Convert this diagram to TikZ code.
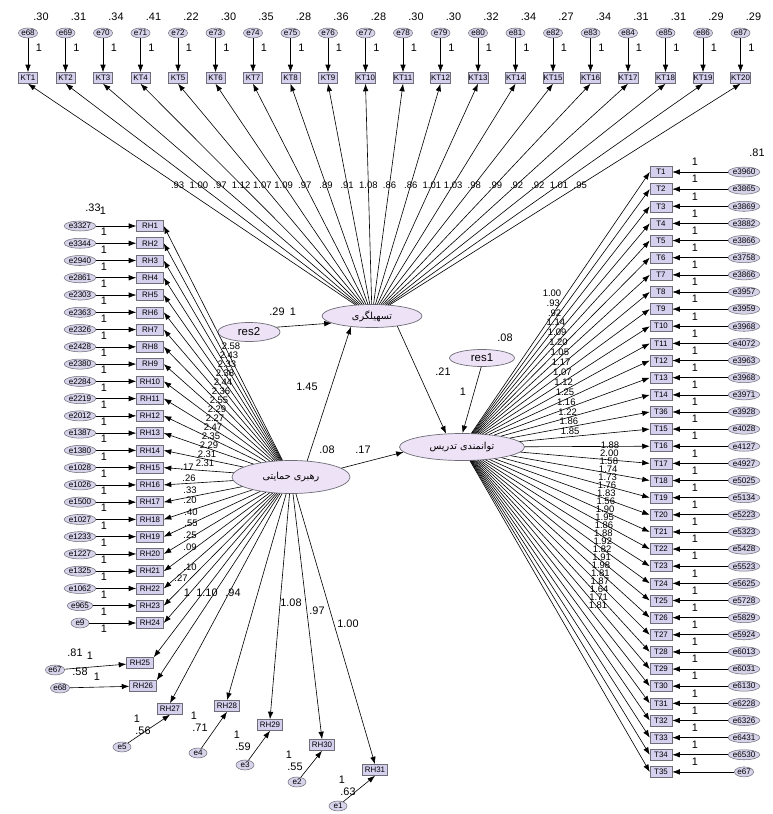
\documentclass[tikz,border=0pt]{standalone}
\usepackage{fontspec}
\setmainfont{Liberation Sans}
\newfontfamily\arabicfont[Script=Arabic]{DejaVu Sans}
\TeXXeTstate=1
\usetikzlibrary{arrows.meta, shapes.geometric}
\definecolor{cBox}{RGB}{212,208,238}
\definecolor{cLat}{RGB}{238,226,246}
\definecolor{cErr}{RGB}{214,211,234}
\definecolor{cLine}{RGB}{110,110,120}
\tikzset{
	obs/.style  ={rectangle, draw=cLine, fill=cBox, line width=0.3pt, minimum width=0.4cm, minimum height=0.22cm, inner sep=0.4pt, font=\fontsize{4.5}{5}\selectfont},
	lat/.style  ={ellipse, draw=cLine, fill=cLat, line width=0.4pt, inner sep=0pt, font=\arabicfont\fontsize{5.5}{6}\selectfont},
	resv/.style ={ellipse, draw=cLine, fill=cLat, line width=0.4pt, inner sep=0pt, font=\fontsize{6.5}{7}\selectfont},
	err/.style  ={ellipse, draw=cLine, fill=cErr, line width=0.3pt, minimum width=0.36cm, minimum height=0.2cm, inner sep=0pt, font=\fontsize{4.6}{5}\selectfont},
	val/.style  ={font=\fontsize{6.2}{7}\selectfont, inner sep=0.5pt},
	sval/.style ={font=\fontsize{5.4}{6}\selectfont, inner sep=0pt},
	reg/.style  ={-{Latex[length=1.5mm, width=1.1mm]}, line width=0.35pt},
}
\begin{document}
\begin{tikzpicture}[x=0.02cm, y=-0.02cm]
\useasboundingbox (0,0) rectangle (772,814);
% latent variables
\node[lat, minimum width=2cm, minimum height=0.46cm] (tsh) at (372,316) {\beginR تسهیلگری\endR};
\node[lat, minimum width=2.5cm, minimum height=0.54cm] (tav) at (462,447) {\beginR توانمندی تدریس\endR};
\node[lat, minimum width=2.36cm, minimum height=0.66cm] (rh) at (291,477) {\beginR رهبری حمایتی\endR};
\node[resv, minimum width=1.3cm, minimum height=0.34cm] (res1) at (482,358) {res1};
\node[resv, minimum width=1.24cm, minimum height=0.38cm] (res2) at (249,332) {res2};

% structural paths
\draw[reg] (rh.45) -- (tsh.207);
\draw[reg] (rh.10) -- (tav.185);
\draw[reg] (tsh.-22) -- (tav.140);
\draw[reg] (res1.265) -- (tav.88);
\draw[reg] (res2.10) -- (tsh.190);
\node[val] (p1) at (307,387) {1.45};
\node[val] (p2) at (327,450) {.08};
\node[val] (p3) at (363,450) {.17};
\node[val] (p4) at (443,372) {.21};
\node[val] (p5) at (463,392) {1};
\node[val] (p6) at (505,338) {.08};
\node[val] (p7) at (277,312) {.29};
\node[val] (p8) at (293,312) {1};

% top indicators
\foreach \v [count=\i] in {.30,.31,.34,.41,.22,.30,.35,.28,.36,.28,.30,.30,.32,.34,.27,.34,.31,.31,.29,.29}{
	\pgfmathsetmacro\xx{28+37.5*(\i-1)}
	\pgfmathtruncatemacro\en{67+\i}
	\node[err] (et\i) at (\xx,33) {e\en};
	\node[obs, minimum width=0.38cm] (kt\i) at (\xx,78) {KT\i};
	\node[val] (vt\i) at (\xx+13,17) {\v};
	\node[val] (ot\i) at (\xx+11,48) {1};
	\draw[reg] (et\i) -- (kt\i);
}
\foreach \w [count=\i] in {.93,1.00,.97,1.12,1.07,1.09,.97,.89,.91,1.08,.86,.86,1.01,1.03,.98,.99,.92,.92,1.01,.95}{
	\pgfmathsetmacro\xx{28+37.5*(\i-1)}
	\draw[reg] (tsh) -- (kt\i.south);
	\node[sval] (lt\i) at ({372+0.565*(\xx-372)},185) {\w};
}

% left indicators
\foreach \e [count=\i] in {e3327,e3344,e2940,e2861,e2303,e2363,e2326,e2428,e2380,e2284,e2219,e2012,e1387,e1380,e1028,e1026,e1500,e1027,e1233,e1227,e1325,e1062,e965,e9}{
	\pgfmathsetmacro\yy{226+17.26*(\i-1)}
	\node[obs, minimum width=0.54cm] (rh\i) at (150,\yy) {RH\i};
	\node[err] (el\i) at (80,\yy) {\e};
	\node[val] (ol\i) at (104,\yy+6) {1};
	\draw[reg] (el\i) -- (rh\i);
	\draw[reg] (rh) -- (rh\i.east);
}
\node[val] (vl1) at (93,208) {.33};
\node[val] (vl2) at (103,211) {1};
\foreach \w [count=\i] in {2.58,2.43,2.33,2.38,2.44,2.36,2.55,2.29,2.27,2.47,2.35,2.29,2.31,2.31}{
	\node[sval] (ll\i) at ({231-2*(\i-1)},{346+9*(\i-1)}) {\w};
}
\foreach \x/\y/\w [count=\i] in {187/467/.17, 189/478/.26, 190/490/.33, 190/500/.20, 191/512/.40, 191/523/.55, 190/535/.25, 190/547/.09, 190/567/.10, 181/578/.27}{
	\node[sval] (lm\i) at (\x,\y) {\w};
}

% lower left indicators
\node[obs, minimum width=0.54cm] (rh25) at (140,663) {RH25};
\node[obs, minimum width=0.54cm] (rh26) at (143,686) {RH26};
\node[err] (e67) at (55,670) {e67};
\node[err] (e68) at (60,688) {e68};
\draw[reg] (e67) -- (rh25);
\draw[reg] (e68) -- (rh26);
\draw[reg] (rh) -- (rh25.north east);
\draw[reg] (rh) -- (rh26.north east);
\node[val] (v25) at (75,653) {.81};
\node[val] (o25) at (90,656) {1};
\node[val] (w25) at (80,672) {.58};
\node[val] (o26) at (97,677) {1};
\node[val] (l25) at (187,593) {1};
\node[val] (l26) at (207,593) {1.10};
\node[val] (l27) at (233,593) {.94};
\foreach \n/\x/\y/\ex/\ey/\v/\en in {27/170/709/122/747/.56/e5, 28/227/706/198/753/.71/e4, 29/270/725/245/765/.59/e3, 30/322/745/297/782/.55/e2, 31/375/770/338/806/.63/e1}{
	\node[obs, minimum width=0.5cm] (rh\n) at (\x,\y) {RH\n};
	\node[err] (eb\n) at (\ex,\ey) {\en};
	\draw[reg] (eb\n) -- (rh\n.south);
	\draw[reg] (rh) -- (rh\n.north);
	\node[val] (ob\n) at ({\x-33},{\y+10}) {1};
	\node[val] (vb\n) at ({\x-27},{\y+22}) {\v};
}
\node[val] (l29) at (291,603) {1.08};
\node[val] (l30) at (317,611) {.97};
\node[val] (l31) at (348,624) {1.00};

% right indicators
\foreach \e/\tl [count=\i] in {e3960/T1,e3865/T2,e3869/T3,e3882/T4,e3866/T5,e3758/T6,e3866/T7,e3957/T8,e3959/T9,e3968/T10,e4072/T11,e3963/T12,e3968/T13,e3971/T14,e3928/T36,e4028/T15,e4127/T16,e4927/T17,e5025/T18,e5134/T19,e5223/T20,e5323/T21,e5428/T22,e5523/T23,e5625/T24,e5728/T25,e5829/T26,e5924/T27,e6013/T28,e6031/T29,e6130/T30,e6228/T31,e6326/T32,e6431/T33,e6530/T34,e67/T35}{
	\pgfmathsetmacro\yy{172+17.14*(\i-1)}
	\node[obs, minimum width=0.44cm] (t\i) at (661,\yy) {\tl};
	\node[err] (er\i) at (744,\yy) {\e};
	\node[val] (or\i) at (695,\yy-10) {1};
	\draw[reg] (er\i) -- (t\i);
	\draw[reg] (tav) -- (t\i.west);
}
\node[val] (vr1) at (757,153) {.81};
\foreach \w [count=\i] in {1.00,.93,.92,1.14,1.09,1.20,1.05,1.17,1.07,1.12,1.25,1.16,1.22,1.86,1.85}{
	\node[sval] (lr\i) at ({552+1.3*(\i-1)},{293+9.9*(\i-1)}) {\w};
}
\foreach \w [count=\i] in {1.88,2.00,1.58,1.74,1.73,1.76,1.83,1.56,1.90,1.95,1.86,1.88,1.92,1.82,1.91,1.98,1.81,1.87,1.64,1.71,1.81}{
	\node[sval] (lq\i) at ({610-0.6*(\i-1)},{445+8*(\i-1)}) {\w};
}
\end{tikzpicture}
\end{document}
